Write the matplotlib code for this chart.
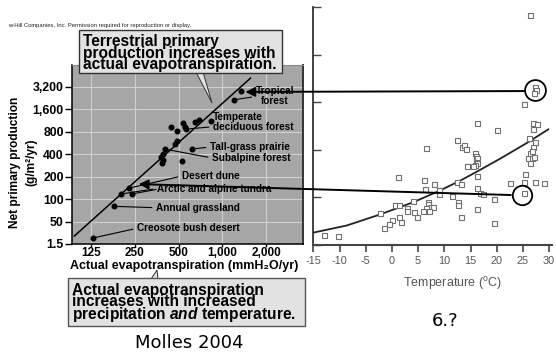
import matplotlib
matplotlib.use('Agg')
import matplotlib.pyplot as plt
from matplotlib.patches import ConnectionPatch, Polygon, Rectangle
from matplotlib.ticker import NullLocator

plt.rcParams['font.family'] = ['Liberation Sans', 'DejaVu Sans']
plt.rcParams['mathtext.fontset'] = 'custom'
plt.rcParams['mathtext.rm'] = 'Liberation Sans'
plt.rcParams['mathtext.it'] = 'Liberation Sans:italic:bold'
plt.rcParams['mathtext.bf'] = 'Liberation Sans:bold'

# ---------------- left panel data (Molles 2004) ----------------
aet = [1350, 1200, 440, 485, 540, 550, 565, 645, 695, 830, 620,
       400, 390, 380, 390, 385, 475, 490, 530, 227, 200, 238, 180, 128]
npp = [2800, 2150, 930, 820, 1050, 930, 870, 1080, 1150, 1120, 470,
       470, 400, 370, 335, 305, 550, 600, 325, 140, 117, 117, 80, 30]
line_aet = [96, 1560]
line_npp = [32, 4200]
aet_ticks = [125, 250, 500, 1000, 2000]
aet_tick_labels = ['125', '250', '500', '1,000', '2,000']
npp_ticks = [25, 50, 100, 200, 400, 800, 1600, 3200]
npp_tick_labels = ['1.5', '50', '100', '200', '400', '800', '1,600', '3,200']
biome_labels = ['Tropical\nforest', 'Temperate\ndeciduous forest', 'Tall-grass prairie',
                'Subalpine forest', 'Desert dune', 'Arctic and alpine tundra',
                'Annual grassland', 'Creosote bush desert']
biome_point = [1, 6, 10, 11, 19, 20, 22, 23]

# ---------------- right panel data ----------------
temp = [26.4, 27.3, 27.5, 27.2, 25.2, 16.2, 20.0, 27.0, 27.75, 27.0, 26.2, 27.4, 27.0,
        26.4, 26.8, 25.9, 26.7, 27.2, 26.4, 6.5, 12.5, 13.3, 13.8, 14.1,
        15.9, 16.1, 16.2, 16.0, 16.2, 15.9, 15.5, 14.3, 16.2, 1.1, 6.2, 8.0, 6.4,
        12.4, 13.1, 16.2, 16.8, 17.3, 25.4, 22.5, 25.3, 27.4, 29.0, 25.3, 19.4, 19.5,
        16.2, 13.2, 12.7, 12.7, 11.4, 8.9, 8.9, 4.0, 6.95, 6.95, 7.3, 6.6, 7.9, 6.0, 7.1,
        0.6, 1.4, 2.8, 2.9, 4.2, 4.8, -2.3, 1.4, 1.7, 0.0, -0.5, -1.6, -13.0, -10.2]
npp2 = [2415, 1656, 1628, 1600, 1480, 1284, 1207, 1284, 1267, 1215, 1120, 1078, 1032,
        969, 990, 910, 917, 927, 864, 1022, 1103, 1032, 1050, 1008,
        963, 935, 910, 875, 858, 840, 830, 830, 728, 717, 683, 637, 588,
        665, 637, 602, 543, 532, 745, 654, 665, 665, 654, 543, 480, 228,
        375, 297, 455, 420, 515, 577, 532, 465, 455, 427, 402, 385, 402, 360, 357,
        420, 420, 392, 357, 343, 297, 333, 291, 245, 262, 220, 175, 105, 94]
curve_T = [-15, -8.6, -2.3, 4.1, 8.9, 13.0, 16.2, 20.6, 25.7, 29.85]
curve_npp = [130, 205, 320, 450, 565, 675, 770, 905, 1070, 1215]
temp_ticks = [-15, -10, -5, 0, 5, 10, 15, 20, 25, 30]
temp_tick_labels = ['-15', '-10', '-5', '0', '5', '10', '15', '20', '25', '30']
circ_T = [27.35, 24.9]
circ_npp = [1625, 530]
link_aet = [1437, 266]
link_npp_left = [2743, 159]
link_T = [25.4, 22.7]
link_npp_right = [1617, 525]

W, H = 556, 356
fig = plt.figure(figsize=(W / 100, H / 100), dpi=100)
fig.patch.set_facecolor('white')


def fx(x):
    return x / W


def fy(y):
    return 1 - y / H


# ---------------- left axes ----------------
axL = fig.add_axes([fx(72), fy(244), (303 - 72) / W, (244 - 65) / H])
axL.set_facecolor('#a6a6a6')
axL.set_xscale('log', base=2)
axL.set_yscale('log', base=2)
axL.set_xlim(92.5, 3580)
axL.set_ylim(25, 6300)
axL.set_xticks(aet_ticks)
axL.set_xticklabels(aet_tick_labels, fontsize=8.5, fontweight='bold')
axL.set_yticks(npp_ticks)
axL.set_yticklabels(npp_tick_labels, fontsize=8.8, fontweight='bold')
axL.xaxis.set_minor_locator(NullLocator())
axL.yaxis.set_minor_locator(NullLocator())
axL.grid(True, color='#d0d0d0', lw=0.8)
axL.set_axisbelow(True)
axL.tick_params(axis='y', direction='out', length=5, width=1, pad=1)
axL.tick_params(axis='x', direction='out', length=2, width=1, pad=0.3)
for s in ['left', 'bottom']:
    axL.spines[s].set_color('black')
    axL.spines[s].set_linewidth(1.1)
axL.spines['right'].set_color('#333333')
axL.spines['right'].set_linewidth(1.4)
axL.spines['top'].set_color('#888888')

axL.plot(line_aet, line_npp, color='black', lw=1.1, zorder=3)
axL.plot(aet, npp, 'o', color='black', ms=3.3, zorder=4)

label_pos = [(275, 96.5, 'center', (0.0, 0.5)), (213, 121.7, 'left', (0.0, 0.25)),
             (210, 147, 'left', (0.0, 0.5)), (212, 158, 'left', (0.0, 0.5)),
             (182, 176, 'left', (0.0, 0.5)), (157, 188.5, 'left', (0.0, 0.5)),
             (156, 207.7, 'left', (0.0, 0.5)), (137, 228.3, 'left', (0.0, 0.5))]
for lab, idx, (px, py, ha, rp) in zip(biome_labels, biome_point, label_pos):
    axL.annotate(lab, xy=(aet[idx], npp[idx]), xytext=(px, H - py),
                 textcoords='figure pixels', ha=ha, va='center', multialignment=ha,
                 fontsize=7.2, fontweight='bold', linespacing=1.0, zorder=5,
                 arrowprops=dict(arrowstyle='-', lw=0.8, color='black',
                                 shrinkA=1, shrinkB=2.5, relpos=rp))
# second tundra point leader
axL.annotate('', xy=(aet[21], npp[21]), xytext=(156, H - 189.5), textcoords='figure pixels',
             arrowprops=dict(arrowstyle='-', lw=0.8, color='black', shrinkA=0, shrinkB=2.5))

fig.text(fx(15), fy(162), 'Net primary production', rotation=90,
         ha='center', va='center', fontsize=8.6, fontweight='bold')
fig.text(fx(31), fy(162), '(g/m\u00b2/yr)', rotation=90,
         ha='center', va='center', fontsize=8.6, fontweight='bold')
fig.text(fx(70), fy(266), 'Actual evapotranspiration (mmH\u2082O/yr)', ha='left',
         va='center', fontsize=9, fontweight='bold')

# ---------------- right axes ----------------
axR = fig.add_axes([fx(313.3), fy(245), (552 - 313.3) / W, (245 - 7) / H])
axR.set_xlim(-15, 30.55)
axR.set_ylim(0, 2500)
axR.set_xticks(temp_ticks)
axR.set_xticklabels(temp_tick_labels, fontsize=7.8, color='#555555')
axR.set_yticks([0, 500, 1000, 1500, 2000, 2500])
axR.set_yticklabels([])
axR.spines['top'].set_visible(False)
axR.spines['right'].set_visible(False)
axR.spines['left'].set_color('#333333')
axR.spines['left'].set_linewidth(1.3)
axR.spines['bottom'].set_color('#444444')
axR.spines['bottom'].set_linewidth(1.5)
axR.tick_params(axis='x', direction='out', length=5, width=1.2, color='#444444', pad=3)
axR.tick_params(axis='y', direction='in', length=6, width=1.0, color='#444444')
axR.set_facecolor('none')
axR.plot(curve_T, curve_npp, color='#222222', lw=1.3, zorder=3)
axR.plot(temp, npp2, 's', ms=3.6, mfc='white', mec='#707070', mew=0.8, zorder=4)
axR.plot(circ_T[:1], circ_npp[:1], 'o', ms=15, mfc='none', mec='black', mew=1.3, zorder=6)
axR.plot(circ_T[1:], circ_npp[1:], 'o', ms=14, mfc='none', mec='black', mew=1.3, zorder=6)
fig.text(fx(452), fy(284), 'Temperature ($^{\\mathrm{o}}$C)', ha='center', va='center',
         fontsize=9, color='#555555')

# ---------------- connecting arrows ----------------
for i in range(2):
    con = ConnectionPatch(xyA=(link_aet[i], link_npp_left[i]), coordsA='data', axesA=axL,
                          xyB=(link_T[i], link_npp_right[i]), coordsB='data', axesB=axR,
                          arrowstyle='<|-', mutation_scale=14, lw=1.4, color='black',
                          shrinkA=0, shrinkB=0, zorder=10)
    fig.add_artist(con)

# ---------------- callout boxes ----------------
fig.add_artist(Polygon([(fx(196), fy(72)), (fx(203), fy(72)), (fx(212), fy(103))],
                       closed=True, transform=fig.transFigure, fc='#e2e2e2', ec='#333333',
                       lw=0.7, zorder=4))
fig.add_artist(Rectangle((fx(79), fy(73)), (282 - 79) / W, (73 - 30) / H,
                         transform=fig.transFigure, fc='#e2e2e2', ec='#333333', lw=1.0, zorder=5))
fig.text(fx(83), fy(69.5), 'Terrestrial primary\nproduction increases with\nactual evapotranspiration.',
         ha='left', va='baseline', fontsize=11.2, fontweight='bold', linespacing=0.74, zorder=6)

fig.add_artist(Polygon([(fx(151), fy(279)), (fx(158), fy(279)), (fx(157), fy(270))],
                       closed=True, transform=fig.transFigure, fc='#e2e2e2', ec='#333333',
                       lw=0.7, zorder=4))
fig.add_artist(Rectangle((fx(68), fy(326)), (305 - 68) / W, (326 - 278) / H,
                         transform=fig.transFigure, fc='#e2e2e2', ec='#555555', lw=1.0, zorder=5))
fig.text(fx(72), fy(318.5),
         'Actual evapotranspiration\nincreases with increased\nprecipitation $\\mathit{and}$ temperature.',
         ha='left', va='baseline', fontsize=11.2, fontweight='bold', linespacing=0.68, zorder=6)

# ---------------- other text ----------------
fig.text(fx(8), fy(25), 'w-Hill Companies, Inc. Permission required for reproduction or display.',
         ha='left', va='center', fontsize=4.2, color='#222222')
fig.text(fx(189), fy(343), 'Molles 2004', ha='center', va='center', fontsize=13,
         family='DejaVu Sans')
fig.text(fx(445), fy(321), '6.?', ha='center', va='center', fontsize=13,
         family='DejaVu Sans')

fig.savefig('out.png', dpi=100)
